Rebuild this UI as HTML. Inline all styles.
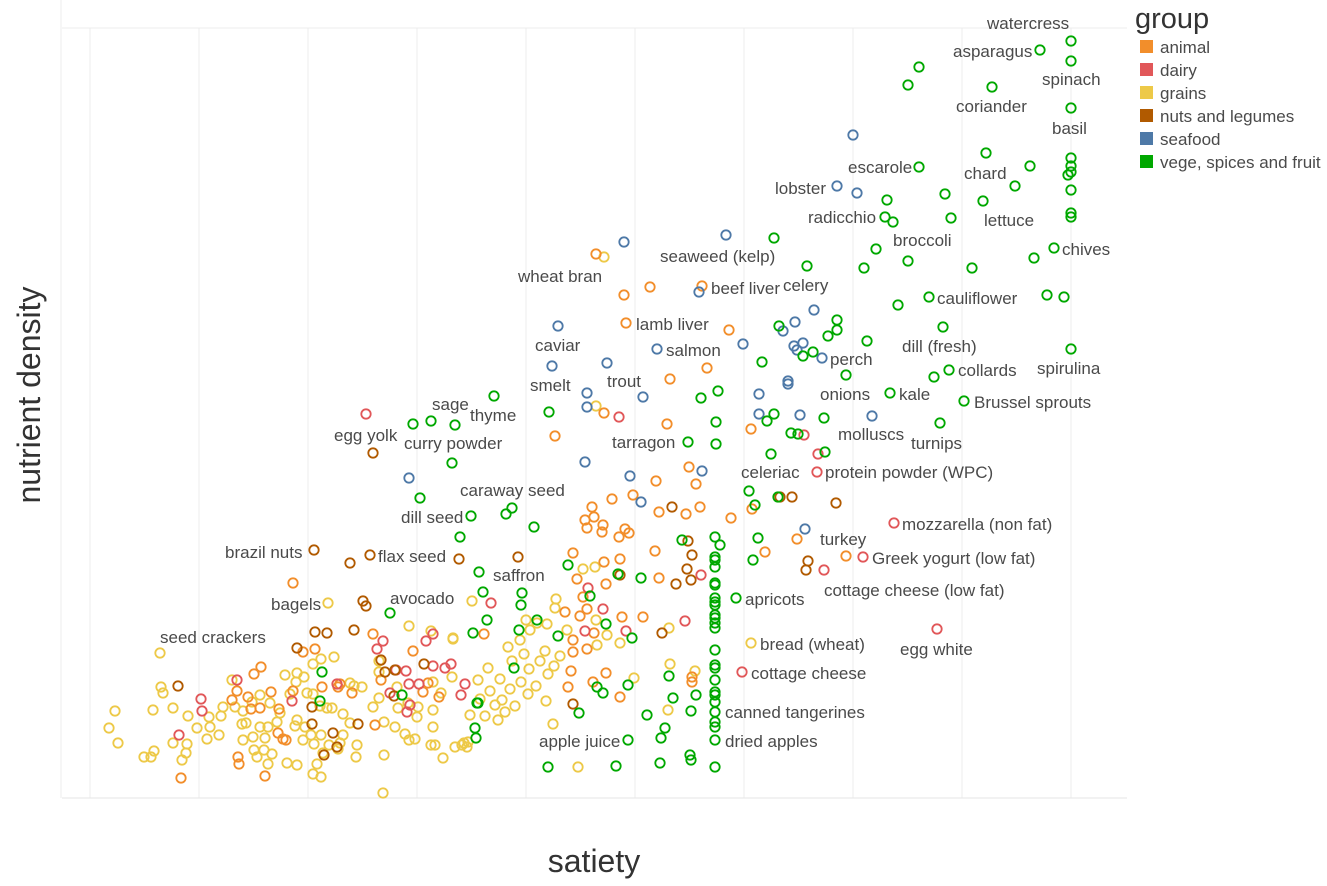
<!DOCTYPE html>
<html><head><meta charset="utf-8">
<style>
body{margin:0;background:#fff;width:1327px;height:886px;overflow:hidden;font-family:"Liberation Sans",sans-serif;}
svg{display:block}
</style></head>
<body>
<svg id="chart" width="1327" height="886" xmlns="http://www.w3.org/2000/svg">
<g id="grid"></g>
<g id="marks"></g>
<g id="labels"></g>
<text x="40" y="395" transform="rotate(-90 40 395)" text-anchor="middle" font-size="32" fill="#333" font-family="Liberation Sans, sans-serif">nutrient density</text>
<text x="594" y="872" text-anchor="middle" font-size="32" fill="#333" font-family="Liberation Sans, sans-serif">satiety</text>
<g id="legend">
<text x="1135" y="28" font-size="29" fill="#333">group</text>
</g>
</svg>
<script>
const groups=["animal","dairy","grains","nuts and legumes","seafood","vege, spices and fruit"];
const colors=["#f28e2b","#e15759","#edc948","#b15a00","#4e79a7","#00a800"];
const gridS=[2.8,13.7,24.6,35.5,46.4,57.3,68.2,79.1,90.0,100.9];
const animalS=[53.4,56.2,58.8,64.0,56.4,66.7,64.5,60.8,54.2,60.5,68.9,49.3,62.7,63.4,59.4,57.1,55.0,53.0,53.2,52.3,52.5,54.1,54.0,56.3,56.7,55.7,59.7,62.4,63.8,66.9,69.0,70.3,59.3,51.1,54.2,55.8,51.5,54.4,59.7,58.1,56.0,52.1,51.8,50.3,52.5,51.1,51.1,52.5,53.2,54.4,50.9,53.1,50.6,55.8,42.2,63.0,63.0,73.5,78.4,23.1,11.9,17.7,17.6,20.3,19.9,19.2,17.5,17.0,18.6,18.9,19.8,21.7,20.9,23.1,21.6,22.1,22.4,24.1,25.3,26.0,27.6,27.8,29.0,31.1,35.1,31.9,31.3,36.1,37.7,36.6];
const animalN=[54.4,50.3,51.1,51.2,47.5,46.8,43.0,41.9,38.5,37.4,36.9,36.2,33.1,31.4,31.7,30.3,29.9,29.1,28.1,27.8,27.0,27.3,26.6,26.9,26.5,26.1,28.6,28.4,29.1,28.0,28.9,24.6,24.7,24.5,23.6,23.9,21.9,21.4,22.0,18.1,18.1,20.1,18.2,18.6,18.9,15.8,14.6,14.9,16.5,12.5,12.7,11.6,11.1,10.1,16.4,12.1,11.6,25.9,24.2,21.5,2.0,3.4,4.1,2.2,13.1,12.4,10.7,9.8,10.1,8.9,9.0,8.9,10.6,10.7,6.5,5.9,5.8,14.6,14.9,11.1,11.1,11.4,10.5,16.4,14.7,11.8,7.3,10.6,10.1,11.5];
const dairyS=[30.4,55.7,74.2,75.6,75.5,52.6,42.9,54.1,52.3,56.4,63.9,62.3,68.0,40.3,39.9,38.3,38.9,87.5,83.2,80.1,76.2,17.5,13.9,14.0,11.7,23.0,31.5,32.1,36.4,37.1,33.4,34.4,37.1,34.7,35.7,34.5,34.8,32.8,27.5];
const dairyN=[38.4,38.1,36.3,34.4,32.6,21.0,19.5,18.9,16.7,16.7,22.3,17.7,12.6,11.4,10.3,13.0,13.4,16.9,27.5,24.1,22.8,11.8,9.9,8.7,6.3,9.7,14.9,15.7,15.7,16.4,12.8,12.7,13.2,11.4,11.4,8.6,9.3,10.5,11.4];
const grainsS=[54.2,53.4,68.9,41.0,39.1,52.1,53.3,49.4,49.3,46.4,47.5,48.5,50.5,53.4,53.5,54.5,55.8,57.2,60.7,60.8,63.3,60.6,49.1,51.6,26.6,9.8,5.3,4.7,5.6,8.2,8.9,9.2,9.9,10.1,9.1,11.1,12.6,11.1,12.5,12.4,12.0,13.5,14.5,14.7,14.8,15.7,15.9,16.1,17.0,17.3,18.1,18.0,18.4,18.1,19.1,19.2,19.5,20.6,19.8,20.6,20.3,20.2,21.0,22.5,23.5,21.5,21.8,20.8,19.0,19.8,22.3,23.5,24.2,23.4,22.8,24.5,25.1,25.1,25.9,27.2,25.8,26.5,27.0,28.1,23.5,23.3,24.3,24.9,25.9,24.1,25.2,26.1,25.5,25.1,25.9,26.7,27.6,27.8,28.1,28.8,29.5,29.4,28.8,29.2,30.0,31.1,31.7,32.2,32.2,32.1,33.3,34.3,34.7,35.3,33.6,34.6,35.5,37.1,37.1,36.9,37.3,38.1,39.3,40.2,40.5,39.0,37.9,37.1,34.7,36.9,39.1,31.7,31.7,33.5,35.6,44.0,44.8,45.9,46.7,47.8,44.3,45.3,46.6,47.4,48.6,42.8,43.3,42.3,41.8,43.8,45.0,46.2,48.3,49.8,49.2,45.8,44.6,46.8,43.6,40.8,40.0,40.6,42.6,41.6,48.4];
const grainsN=[54.1,39.2,15.5,19.7,15.9,22.9,23.1,19.9,19.0,17.8,17.5,17.4,16.8,17.8,15.3,16.3,15.5,12.0,17.0,13.4,12.7,8.8,7.4,3.1,19.5,14.5,8.7,7.0,5.5,4.1,4.1,4.7,11.1,10.5,8.8,9.0,8.2,5.5,5.4,4.5,3.8,7.0,5.9,8.1,7.1,6.3,8.2,9.1,11.8,9.1,8.7,7.4,7.5,5.8,6.1,4.8,4.1,3.4,7.1,7.1,6.0,4.8,4.4,3.5,3.3,7.6,8.5,9.5,9.6,10.3,12.3,12.5,12.1,11.6,10.4,10.5,10.4,13.4,13.9,14.1,9.2,9.0,9.0,8.4,7.8,7.2,7.1,6.3,6.3,5.8,5.4,4.5,3.4,2.4,2.1,5.3,4.9,5.5,6.3,7.5,5.3,4.1,11.5,11.2,11.1,9.1,10.0,7.6,4.3,0.5,7.1,6.4,5.8,5.9,9.0,9.5,8.1,8.8,7.1,5.3,5.3,4.0,5.1,5.5,5.1,12.1,10.5,11.6,17.2,16.7,16.0,12.6,13.7,11.1,9.1,9.8,10.9,11.6,12.9,13.7,8.6,9.2,10.4,11.2,12.4,10.7,9.3,8.2,9.9,11.9,13.7,14.4,14.7,14.2,13.2,15.8,15.1,16.8,7.8,8.3,5.3,5.6,13.0,11.8,9.7];
const nutsS=[31.1,25.2,30.8,28.8,39.7,30.1,30.4,45.6,55.8,61.0,62.6,63.0,62.5,61.4,62.9,60.0,51.1,77.4,71.8,73.0,74.6,74.4,25.3,26.5,29.2,23.5,31.9,32.3,33.2,36.2,11.6,25.0,25.0,27.1,29.6,27.5,26.2,33.3];
const nutsN=[34.5,24.8,24.3,23.5,23.9,19.7,19.2,24.1,22.3,29.1,25.7,24.3,22.9,21.4,21.8,16.5,9.4,29.5,30.1,30.1,23.7,22.8,16.6,16.5,16.8,15.0,13.8,12.6,10.2,13.4,11.2,9.1,7.4,6.5,7.4,5.1,4.3,12.8];
const seafoodS=[56.2,66.4,63.7,49.6,59.5,68.1,75.2,73.3,72.1,73.2,74.1,73.5,76.0,49.0,54.5,52.5,52.5,58.1,72.6,72.6,69.7,69.7,73.8,81.0,52.3,64.0,56.8,77.5,79.5,79.1,34.7,57.9,74.3];
const seafoodN=[55.6,56.3,50.6,47.2,44.9,45.4,48.8,47.6,46.7,45.2,45.5,44.8,44.0,43.2,43.5,40.5,39.1,40.1,41.7,41.4,40.4,38.4,38.3,38.2,33.6,32.7,32.2,61.2,60.5,66.3,32.0,29.6,26.9];
const vegeS=[100.9,97.8,85.7,84.6,100.9,93.0,100.9,85.7,92.4,96.8,100.9,100.9,100.6,100.9,95.3,100.9,100.9,100.9,88.3,92.1,82.5,88.9,82.3,83.1,99.2,97.2,91.0,84.6,81.4,80.2,74.5,71.2,98.5,100.2,86.7,83.6,88.1,80.5,77.5,77.5,76.6,100.9,88.7,87.2,78.4,75.1,74.1,71.7,70.0,65.6,63.9,90.2,82.8,87.8,76.2,72.9,73.6,70.9,76.3,70.5,71.2,65.4,65.4,62.6,48.7,43.2,35.1,36.9,39.3,39.0,35.8,40.9,44.4,45.0,47.2,39.8,41.7,42.1,46.0,45.9,42.5,41.1,47.5,45.7,50.6,57.9,55.6,54.4,57.0,52.8,49.6,45.2,53.5,54.1,56.6,60.7,61.1,58.5,60.3,59.9,56.6,55.4,59.8,48.6,51.7,41.6,41.3,41.4,62.8,62.9,63.4,62.9,67.4,62.0,68.7,69.3,71.6,69.1,69.6,65.8,26.0,25.8,41.5,34.0,32.8,65.3,65.3,65.3,65.3,65.3,65.3,65.3,65.3,65.3,65.3,65.3,65.3,65.3,65.3,65.3,65.3,65.3,65.3,65.3,65.3,65.3,65.3,65.3,65.3,65.3];
const vegeN=[75.7,74.8,73.1,71.3,73.7,71.1,69.0,63.1,64.5,63.2,64.0,63.2,62.3,62.6,61.2,60.8,58.5,58.1,60.4,59.7,59.8,58.0,58.1,57.6,55.0,54.0,53.0,53.7,54.9,53.0,53.2,56.0,50.3,50.1,50.1,49.3,47.1,45.7,47.8,46.8,46.2,44.9,42.8,42.1,42.3,44.6,44.2,47.2,43.6,40.7,40.0,39.7,40.5,37.5,38.0,36.5,36.4,34.4,34.6,37.7,38.4,37.6,35.4,35.6,38.6,40.2,37.4,37.7,37.3,33.5,30.0,28.2,28.4,29.0,27.1,26.1,22.6,20.6,20.5,19.3,17.8,16.5,17.8,16.8,23.3,22.0,22.4,17.4,16.0,20.2,16.2,13.0,11.1,10.5,11.3,12.2,10.0,8.3,7.0,6.0,5.8,3.2,3.5,3.1,8.5,9.5,7.0,6.0,4.3,3.8,10.3,8.7,20.0,25.8,30.7,29.3,30.1,23.8,26.0,25.3,12.6,9.7,9.5,10.3,18.5,26.1,24.1,23.8,23.1,21.5,21.3,20.0,19.6,19.3,18.3,18.0,17.5,17.0,14.8,13.3,13.0,11.8,10.6,10.3,9.6,8.6,7.6,7.1,5.8,3.1];
const labelText=["watercress","asparagus","spinach","coriander","basil","escarole","chard","lobster","radicchio","lettuce","broccoli","chives","seaweed (kelp)","wheat bran","beef liver","celery","cauliflower","lamb liver","caviar","dill (fresh)","salmon","perch","spirulina","collards","trout","smelt","onions","kale","Brussel sprouts","sage","thyme","egg yolk","molluscs","tarragon","curry powder","turnips","celeriac","protein powder (WPC)","caraway seed","dill seed","mozzarella (non fat)","turkey","brazil nuts","flax seed","Greek yogurt (low fat)","saffron","cottage cheese (low fat)","avocado","apricots","bagels","seed crackers","bread (wheat)","egg white","cottage cheese","canned tangerines","apple juice","dried apples"];
const labelS=[92.5,89.1,98.0,89.4,99.0,78.6,90.2,71.3,74.6,92.2,83.1,100.0,59.8,45.6,64.9,72.1,87.5,57.4,47.3,84.0,60.4,76.8,97.5,89.6,54.5,46.8,75.8,83.7,91.2,37.0,40.8,27.2,77.6,55.0,34.2,84.9,67.9,76.3,39.8,33.9,84.0,75.8,16.3,31.6,81.0,43.1,76.2,32.8,68.3,20.9,9.8,69.8,83.8,68.9,66.3,47.7,66.3];
const labelN=[77.5,74.7,71.9,69.2,67.0,63.1,62.5,61.0,58.1,57.8,55.8,54.9,54.2,52.2,51.0,51.3,50.0,47.4,45.3,45.2,44.8,43.9,43.0,42.8,41.7,41.3,40.4,40.4,39.6,39.4,38.3,36.3,36.4,35.6,35.5,35.5,32.6,32.6,30.8,28.1,27.4,25.9,24.6,24.2,24.0,22.3,20.8,20.0,19.9,19.4,16.1,15.4,14.9,12.5,8.6,5.7,5.7];

const X0=62,X1=1127,Y0=798,Y1=28,SMAX=106.5,NMAX=77;
function xs(s){return X0+s/SMAX*(X1-X0);}
function ys(n){return Y0-n/NMAX*(Y0-Y1);}
const SVGNS="http://www.w3.org/2000/svg";
function mk(t,a){const e=document.createElementNS(SVGNS,t);for(const k in a)e.setAttribute(k,a[k]);return e;}

const gridG=document.getElementById('grid');
gridS.forEach(s=>{
  const l=mk('line',{x1:xs(s),x2:xs(s),y1:Y1,y2:Y0,stroke:'#ececec','stroke-width':1});
  
  
  gridG.appendChild(l);
});
const topLine=mk('line',{x1:X0,x2:X1,y1:Y1,y2:Y1,stroke:'#ececec','stroke-width':1});


gridG.appendChild(topLine);
const xAxisLine=mk('line',{x1:X0,x2:X1,y1:Y0,y2:Y0,stroke:'#e6e6e6','stroke-width':1});


gridG.appendChild(xAxisLine);
const yAxisLine=mk('line',{x1:X0-1,x2:X0-1,y1:Y0,y2:0,stroke:'#ececec','stroke-width':1});


gridG.appendChild(yAxisLine);

const series=[[grainsS,grainsN,2],[animalS,animalN,0],[dairyS,dairyN,1],[nutsS,nutsN,3],[seafoodS,seafoodN,4],[vegeS,vegeN,5]];
const marksG=document.getElementById('marks');
series.forEach(([S,N,g])=>{
  for(let i=0;i<S.length;i++){
    const c=mk('circle',{cx:xs(S[i]),cy:ys(N[i]),r:4.7,fill:'none',stroke:colors[g],'stroke-width':1.8});
    
    
    marksG.appendChild(c);
  }
});
const labelsG=document.getElementById('labels');
labelText.forEach((t,i)=>{
  const e=mk('text',{x:xs(labelS[i]),y:ys(labelN[i])+6,'font-size':17,fill:'#4a4a4a'});
  
  
  e.textContent=t;
  labelsG.appendChild(e);
});
const legG=document.getElementById('legend');
groups.forEach((g,i)=>{
  const y=47+i*23;
  const r=mk('rect',{x:1140,y:y-7,width:13,height:13,fill:colors[i]});
  
  
  legG.appendChild(r);
  const t=mk('text',{x:1160,y:y+6,'font-size':17,fill:'#4a4a4a'});
  
  
  t.textContent=g;
  legG.appendChild(t);
});
</script>
</body></html>
